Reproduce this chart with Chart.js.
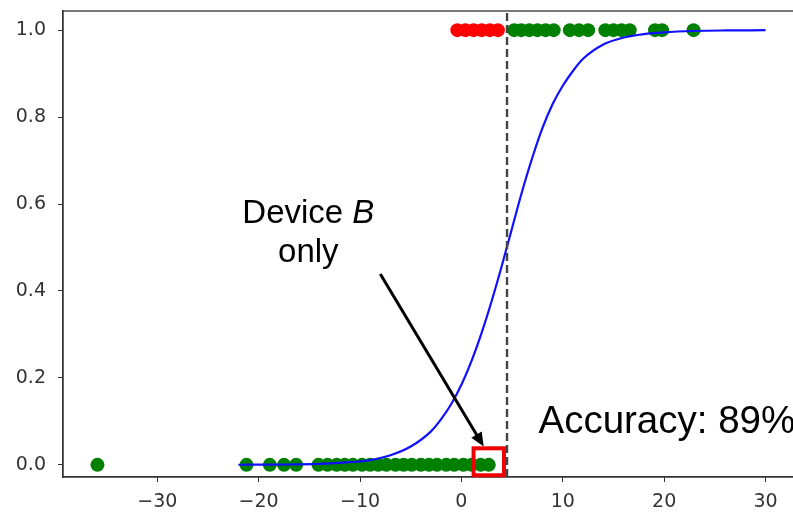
<!DOCTYPE html>
<html lang="en">
<head>
<meta charset="UTF-8">
<title>Device B logistic fit</title>
<style>
  body { margin: 0; overflow: hidden; background: #fff; }
  #wrap { position: absolute; left: 0; top: 0; width: 806px; height: 525px; }
</style>
</head>
<body>
<div id="wrap"><canvas id="chart" width="806" height="525"></canvas></div>
<script src="https://cdn.jsdelivr.net/npm/chart.js"></script>
<script>
// values
const redTopX = [-0.4, 0.4, 1.2, 2.0, 2.8, 3.6];
const greenTopX = [5.2, 5.9, 6.7, 7.5, 8.3, 9.1, 10.7, 11.6, 12.5, 14.2, 15.0, 15.8, 16.6, 19.1, 19.8, 22.9];
const greenBottomX = [-35.9, -21.2, -18.9, -17.5, -16.3, -14.1, -13.2, -12.3, -11.5, -10.7, -9.8, -9.0,
                      -8.2, -7.4, -6.5, -5.7, -4.9, -4.0, -3.2, -2.4, -1.5, -0.7, 0.2, 1.0, 1.9, 2.7];
const curveX = [-22, -18, -14, -11, -9, -7, -5, -3, -2, -1, 0, 1, 2, 3, 4, 5, 6, 7, 8, 9, 10, 11, 12, 14, 16, 18, 20, 23, 26, 30];
const curveY = [0.0002, 0.0006, 0.002, 0.006, 0.011, 0.022, 0.042, 0.077, 0.105, 0.14, 0.184, 0.239, 0.304, 0.378,
                0.459, 0.545, 0.63, 0.707, 0.775, 0.83, 0.872, 0.906, 0.934, 0.967, 0.983, 0.991, 0.995, 0.998, 0.9992, 0.9998];
const thresholdX = 4.5;
const xTicks = [-30, -20, -10, 0, 10, 20, 30];
const yTicks = [0, 0.2, 0.4, 0.6, 0.8, 1.0];
const xRange = [-39.3, 33.3];
const yRange = [-0.028, 1.044];

// annotations, in data units
const boxX = [1.2, 4.2];
const boxY = [-0.024, 0.038];
const arrowFrom = [-8.0, 0.439];
const arrowTo = [2.2, 0.042];
const noteAt = [-15.1, 0.556];
const accuracyAt = [7.6, 0.074];
const accuracyText = 'Accuracy: 89%';

const axisColor = '#333';

function pts(xs, y) {
    return xs.map(x => ({ x: x, y: y }));
}

// frame + annotation drawing
const extras = {
    id: 'extras',
    afterDraw(chart) {
        const c = chart.ctx;
        const a = chart.chartArea;
        const sx = chart.scales.x, sy = chart.scales.y;
        const px = v => sx.getPixelForValue(v);
        const py = v => sy.getPixelForValue(v);

        c.save();
        c.strokeStyle = axisColor;
        c.lineWidth = 1.3;
        c.strokeRect(a.left, a.top, a.right - a.left, a.bottom - a.top);

        // red box
        c.strokeStyle = '#ee0000';
        c.lineWidth = 4;
        c.strokeRect(px(boxX[0]), py(boxY[1]), px(boxX[1]) - px(boxX[0]), py(boxY[0]) - py(boxY[1]));

        // arrow
        const x0 = px(arrowFrom[0]), y0 = py(arrowFrom[1]);
        const x1 = px(arrowTo[0]), y1 = py(arrowTo[1]);
        const ang = Math.atan2(y1 - y0, x1 - x0);
        const head = 14;
        c.strokeStyle = '#000';
        c.fillStyle = '#000';
        c.lineWidth = 3;
        c.beginPath();
        c.moveTo(x0, y0);
        c.lineTo(x1 - Math.cos(ang) * head * 0.8, y1 - Math.sin(ang) * head * 0.8);
        c.stroke();
        c.beginPath();
        c.moveTo(x1, y1);
        c.lineTo(x1 - head * Math.cos(ang) + 6 * Math.sin(ang), y1 - head * Math.sin(ang) - 6 * Math.cos(ang));
        c.lineTo(x1 - head * Math.cos(ang) - 6 * Math.sin(ang), y1 - head * Math.sin(ang) + 6 * Math.cos(ang));
        c.closePath();
        c.fill();

        // "Device B / only"
        const f = '33px "Liberation Sans", Arial, sans-serif';
        const fi = 'italic 33px "Liberation Sans", Arial, sans-serif';
        c.fillStyle = '#000';
        c.textBaseline = 'alphabetic';
        c.font = f;
        const w1 = c.measureText('Device ').width;
        c.font = fi;
        const w2 = c.measureText('B').width;
        const cx = px(noteAt[0]), by = py(noteAt[1]);
        c.textAlign = 'left';
        c.font = f;
        c.fillText('Device ', cx - (w1 + w2) / 2, by);
        c.font = fi;
        c.fillText('B', cx - (w1 + w2) / 2 + w1, by);
        c.font = f;
        c.textAlign = 'center';
        c.fillText('only', cx, by + 39);

        // accuracy
        c.textAlign = 'left';
        c.font = '38.5px "Liberation Sans", Arial, sans-serif';
        c.fillText(accuracyText, px(accuracyAt[0]), py(accuracyAt[1]));
        c.restore();
    }
};

const tickFont = { family: '"DejaVu Sans"', size: 19 };

new Chart(document.getElementById('chart'), {
    type: 'scatter',
    data: {
        datasets: [
            {
                type: 'line',
                data: [{ x: thresholdX, y: yRange[0] }, { x: thresholdX, y: yRange[1] }],
                borderColor: '#444',
                borderWidth: 2.4,
                borderDash: [8, 4],
                pointRadius: 0,
                order: -1
            },
            {
                type: 'line',
                data: curveX.map((x, i) => ({ x: x, y: curveY[i] })),
                borderColor: '#1010ff',
                borderWidth: 2.2,
                pointRadius: 0,
                cubicInterpolationMode: 'monotone',
                order: 0
            },
            {
                data: pts(redTopX, 1),
                backgroundColor: '#ff0000',
                pointRadius: 7,
                borderWidth: 0,
                order: 1
            },
            {
                data: pts(greenTopX, 1).concat(pts(greenBottomX, 0)),
                backgroundColor: '#008000',
                pointRadius: 7,
                borderWidth: 0,
                order: 1
            }
        ]
    },
    options: {
        responsive: false,
        animation: false,
        layout: { padding: { top: 11, right: 7, left: 0, bottom: 0 } },
        plugins: { legend: { display: false }, tooltip: { enabled: false } },
        scales: {
            x: {
                type: 'linear',
                min: xRange[0],
                max: xRange[1],
                afterBuildTicks: s => { s.ticks = xTicks.map(v => ({ value: v })); },
                afterFit: s => { s.height = 48; s.paddingLeft = 0; s.paddingRight = 0; },
                ticks: {
                    color: axisColor,
                    font: tickFont,
                    padding: 9,
                    maxRotation: 0,
                    callback: v => (v < 0 ? '\u2212' + Math.abs(v) : String(v))
                },
                grid: { drawOnChartArea: false, tickLength: 5, color: axisColor },
                border: { color: axisColor, width: 1.3 }
            },
            y: {
                type: 'linear',
                min: yRange[0],
                max: yRange[1],
                afterBuildTicks: s => { s.ticks = yTicks.map(v => ({ value: v })); },
                afterFit: s => { s.width = 63; s.paddingTop = 0; s.paddingBottom = 0; },
                ticks: {
                    color: axisColor,
                    font: tickFont,
                    padding: 12,
                    callback: v => v.toFixed(1)
                },
                grid: { drawOnChartArea: false, tickLength: 5, color: axisColor },
                border: { color: axisColor, width: 1.3 }
            }
        }
    },
    plugins: [extras]
});
</script>
</body>
</html>
